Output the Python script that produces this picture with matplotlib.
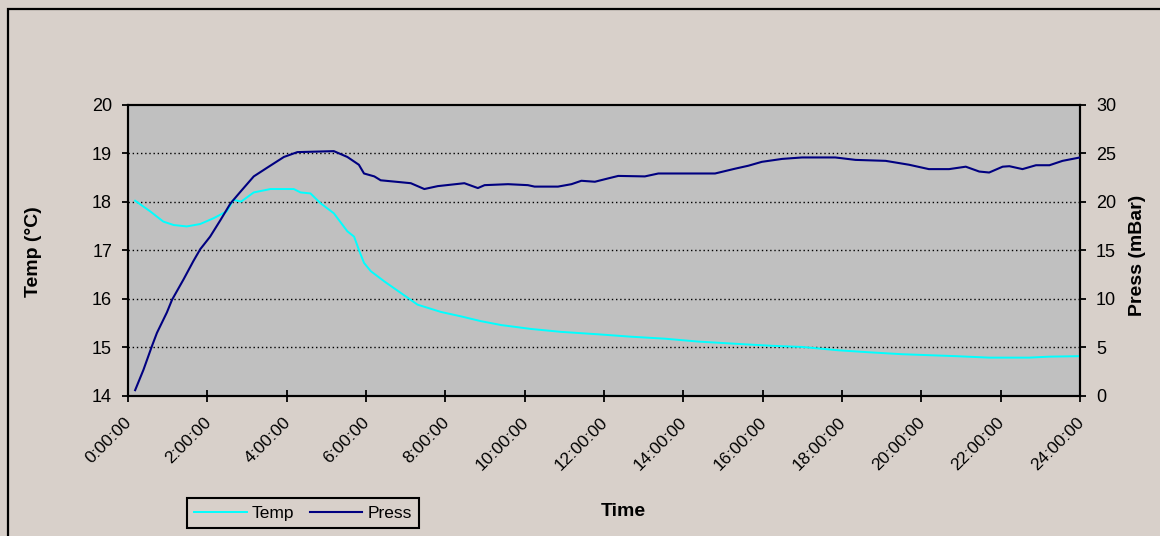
import matplotlib

matplotlib.use("Agg")
import matplotlib.pyplot as plt
from matplotlib.patches import Rectangle
from matplotlib.ticker import FuncFormatter, MultipleLocator
from matplotlib.transforms import ScaledTranslation

plt.rcParams["font.family"] = ["Liberation Sans", "DejaVu Sans"]

# readings, time in hours since start
temp_hours = [0.18, 0.56, 0.89, 1.15, 1.48, 1.82, 2.16, 2.49, 2.66, 2.85, 3.17, 3.59,
              4.18, 4.35, 4.60, 4.85, 5.19, 5.53, 5.70, 5.82, 5.95, 6.12, 6.46, 6.88,
              7.30, 7.89, 8.39, 8.90, 9.41, 10.16, 10.92, 11.85, 12.69, 13.53, 14.38,
              15.64, 16.32, 16.99, 17.92, 18.68, 19.52, 20.87, 21.71, 22.72, 23.23, 24.00]
temp_vals = [18.02, 17.80, 17.59, 17.52, 17.49, 17.54, 17.66, 17.80, 18.04, 18.00, 18.19, 18.26,
             18.26, 18.19, 18.17, 17.97, 17.76, 17.39, 17.28, 17.01, 16.74, 16.57, 16.36, 16.12,
             15.88, 15.73, 15.64, 15.54, 15.46, 15.38, 15.32, 15.27, 15.22, 15.18, 15.12,
             15.06, 15.03, 15.01, 14.94, 14.90, 14.86, 14.82, 14.79, 14.79, 14.81, 14.82]

press_hours = [0.18, 0.39, 0.60, 0.73, 0.98, 1.11, 1.40, 1.65, 1.82, 2.07, 2.33, 2.58, 2.83,
               3.17, 3.51, 3.93, 4.27, 5.19, 5.53, 5.82, 5.95, 6.21, 6.37, 6.88, 7.13, 7.47,
               7.81, 8.48, 8.82, 8.99, 9.58, 10.08, 10.25, 10.84, 11.18, 11.43, 11.77, 12.11,
               12.36, 13.03, 13.37, 14.80, 15.31, 15.64, 15.98, 16.49, 16.99, 17.83, 18.34,
               19.10, 19.69, 20.19, 20.70, 21.12, 21.46, 21.71, 22.05, 22.22, 22.55, 22.89,
               23.23, 23.56, 24.00]
press_vals = [0.6, 2.7, 5.1, 6.5, 8.6, 9.9, 12.0, 13.9, 15.1, 16.4, 18.1, 19.8, 21.0,
              22.6, 23.5, 24.6, 25.1, 25.2, 24.6, 23.8, 22.9, 22.6, 22.2, 22.0, 21.9, 21.3,
              21.6, 21.9, 21.4, 21.7, 21.8, 21.7, 21.55, 21.55, 21.8, 22.15, 22.05, 22.4,
              22.65, 22.6, 22.9, 22.9, 23.4, 23.7, 24.1, 24.4, 24.55, 24.55, 24.3,
              24.2, 23.8, 23.35, 23.35, 23.6, 23.1, 23.0, 23.6, 23.65, 23.35, 23.75,
              23.75, 24.2, 24.55]

BG = "#d8d0ca"
W, H = 1160, 536

fig = plt.figure(figsize=(W / 100, H / 100), dpi=100, facecolor=BG)
# outer chart frame (right and bottom edges fall outside the picture)
fig.patches.append(Rectangle((8 / W, -0.1), 1.2, 1.1 - 9 / H, transform=fig.transFigure,
                             fill=False, edgecolor="black", linewidth=1.6))

ax = fig.add_axes([128 / W, 1 - 396 / H, (1080 - 128) / W, (396 - 104.5) / H])
ax.set_facecolor("#c0c0c0")
ax2 = ax.twinx()

ax.plot(temp_hours, temp_vals, color="#00ffff", linewidth=1.4, label="Temp", zorder=3)
ax2.plot(press_hours, press_vals, color="#000080", linewidth=1.5, label="Press", zorder=3)

ax.set_xlim(0, 24)
ax.set_ylim(14, 20)
ax2.set_ylim(0, 30)
ax.xaxis.set_major_locator(MultipleLocator(2))
ax.xaxis.set_major_formatter(FuncFormatter(lambda v, p: f"{int(round(v))}:00:00"))
ax.yaxis.set_major_locator(MultipleLocator(1))
ax2.yaxis.set_major_locator(MultipleLocator(5))

for y in range(15, 20):
    ax.axhline(y, color="black", linestyle=(0, (1, 2)), linewidth=1.0, zorder=1)

for a in (ax, ax2):
    for s in a.spines.values():
        s.set_linewidth(1.5)
ax.tick_params(axis="x", direction="inout", length=8.5, width=1.3, labelsize=12.5, pad=2)
ax.tick_params(axis="y", direction="out", length=4.5, width=1.3, labelsize=13, pad=7)
ax2.tick_params(axis="y", direction="out", length=4.5, width=1.3, labelsize=13, pad=7)
shift = ScaledTranslation(-4 / 100, -10 / 100, fig.dpi_scale_trans)
for lbl in ax.get_xticklabels():
    lbl.set_rotation(45)
    lbl.set_ha("right")
    lbl.set_va("top")
    lbl.set_rotation_mode("anchor")
    lbl.set_transform(lbl.get_transform() + shift)

fig.text(34 / W, 1 - 252 / H, "Temp (°C)", rotation=90, ha="center", va="center",
         fontsize=14, fontweight="bold")
fig.text(1138 / W, 1 - 255 / H, "Press (mBar)", rotation=90, ha="center", va="center",
         fontsize=14, fontweight="bold")
fig.text(623 / W, 1 - 511 / H, "Time", ha="center", va="center", fontsize=14, fontweight="bold")

handles = ax.get_lines()[:1] + ax2.get_lines()[:1]
leg = fig.legend(handles, ["Temp", "Press"], loc="center", ncol=2,
                 bbox_to_anchor=(303 / W, 1 - 513 / H), fontsize=12.5, frameon=True,
                 fancybox=False, edgecolor="black", facecolor=BG, framealpha=1,
                 handlelength=3.0, handletextpad=0.3, columnspacing=0.9, borderpad=0.45)
leg.get_frame().set_linewidth(1.5)

fig.savefig("out.png", dpi=100, facecolor=BG)
